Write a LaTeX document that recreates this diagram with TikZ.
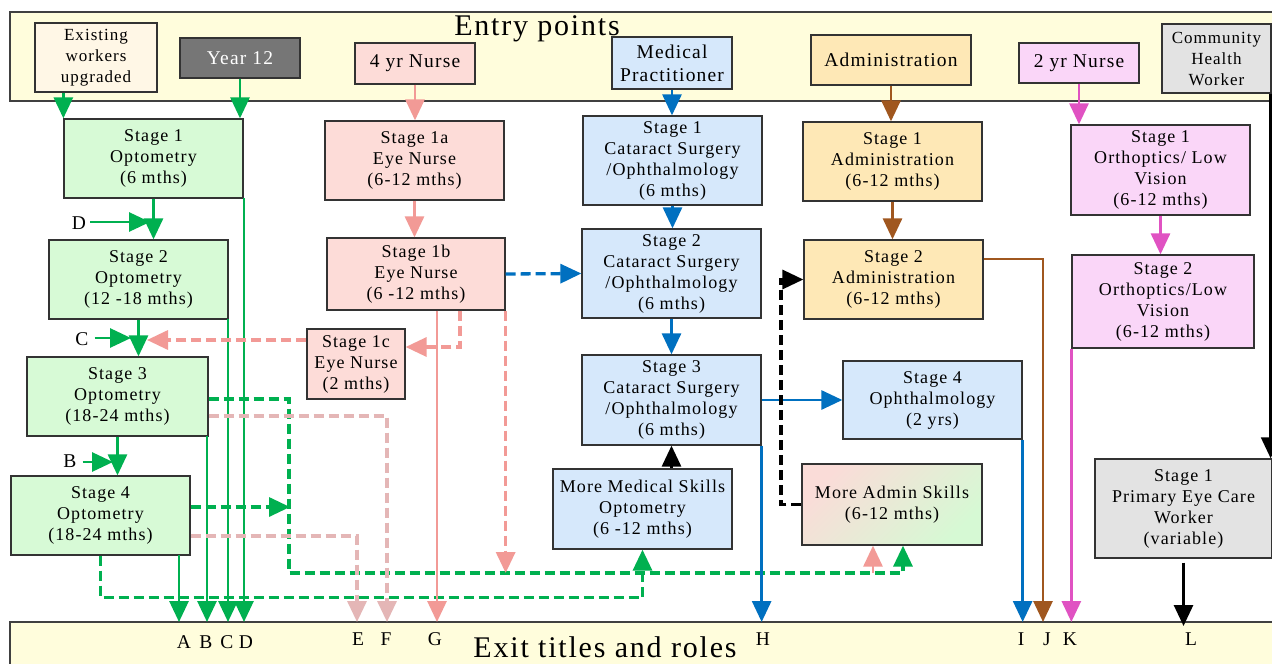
\documentclass[tikz,border=0pt]{standalone}
\usepackage{fontspec}
\setmainfont{Liberation Serif}[LetterSpace=6]
\usetikzlibrary{arrows.meta}
\definecolor{bandc}{HTML}{FFFDDC}
\definecolor{creamc}{HTML}{FFF7E6}
\definecolor{darkg}{HTML}{767676}
\definecolor{nursec}{HTML}{FDDCD8}
\definecolor{bluec}{HTML}{D6E8FB}
\definecolor{admc}{HTML}{FEE8B6}
\definecolor{orthc}{HTML}{FAD6F8}
\definecolor{greyc}{HTML}{E3E3E3}
\definecolor{optc}{HTML}{D7FAD6}
\definecolor{gline}{HTML}{00B050}
\definecolor{sline}{HTML}{F29A96}
\definecolor{rline}{HTML}{E4B6B6}
\definecolor{bline}{HTML}{0070C0}
\definecolor{brline}{HTML}{A0571F}
\definecolor{mline}{HTML}{E052C2}
\definecolor{yelc}{HTML}{FFFBDF}
\definecolor{asp}{HTML}{FADCD8}
\definecolor{asg}{HTML}{D6F9D4}
\newcommand\fsS{\fontsize{18}{21}\selectfont}
\newcommand\fsA{\fontsize{17}{21}\selectfont}
\newcommand\fsB{\fontsize{19.5}{23}\selectfont}
\newcommand\fsT{\fontsize{30}{34}\selectfont}
\tikzset{
  box/.style={draw=black!80, line width=1.3pt, align=center, inner sep=0pt, font=\fsS},
  sz/.style 2 args={minimum width=#1pt, minimum height=#2pt},
  bandst/.style={draw=black!75, line width=1.3pt, fill=bandc},
  lab/.style={font=\fsB, inner sep=0pt, anchor=base},
  ttl/.style={font=\fsT, inner sep=0pt, anchor=base},
  conn/.style={line width=2.9pt, -{Triangle[width=19pt,length=21pt]}},
  dsh/.style={line width=3.3pt, dash pattern=on 10pt off 5pt},
  ga/.style={conn, draw=gline},
  gd/.style={ga, dsh},
  sa/.style={conn, draw=sline},
  sd/.style={sa, dsh},
  rd/.style={conn, draw=rline, dsh},
  ba/.style={conn, draw=bline},
  bd/.style={ba, dsh},
  bra/.style={conn, draw=brline},
  ma/.style={conn, draw=mline},
  ka/.style={conn, draw=black},
  kd/.style={ka, dsh},
}
\begin{document}
\begin{tikzpicture}[x=1pt,y=-1pt]
\useasboundingbox (0,0) rectangle (1272,664);
\fill[white] (0,0) rectangle (1272,664);
% bands
\draw[bandst] (10,12) rectangle (1290,101);
\draw[bandst] (10,622) rectangle (1290,690);
\coordinate (ex) at (0,622);
\node[ttl] (entry) at (537,35) {Entry points};
\node[ttl] (exit) at (605,657) {Exit titles and roles};
% entry points
\node[box, fill=creamc, sz={122}{69}, font=\fsA] (ewu) at (96,57.5) {Existing\\workers\\upgraded};
\node[box, fill=darkg, text=white, sz={120}{40}, font=\fsB] (y12) at (240,58) {Year 12};
\node[box, fill=nursec, sz={120}{41}, font=\fsB] (n4) at (415,63.5) {4 yr Nurse};
\node[box, fill=bluec, sz={120}{52}, font=\fsB] (mp) at (672,63) {Medical\\Practitioner};
\node[box, fill=admc, sz={160}{50}, font=\fsB] (adm) at (891,60) {Administration};
\node[box, fill=orthc, sz={120}{40}, font=\fsB] (n2) at (1079,63) {2 yr Nurse};
\node[box, fill=greyc, sz={109}{69}, font=\fsA] (chw) at (1216.5,58.5) {Community\\Health\\Worker};
% optometry
\node[box, fill=optc, sz={179}{79}] (o1) at (153.5,158.5) {Stage 1\\Optometry\\(6 mths)};
\node[box, fill=optc, sz={179}{79}] (o2) at (138.5,279.5) {Stage 2\\Optometry\\(12 -18 mths)};
\node[box, fill=optc, sz={181}{79}] (o3) at (117.5,396.5) {Stage 3\\Optometry\\(18-24 mths)};
\node[box, fill=optc, sz={179}{79}] (o4) at (100.5,515.5) {Stage 4\\Optometry\\(18-24 mths)};
% eye nurse
\node[box, fill=nursec, sz={179}{79}] (e1a) at (414.5,160.5) {Stage 1a\\Eye Nurse\\(6-12 mths)};
\node[box, fill=nursec, sz={178}{72}] (e1b) at (416,274) {Stage 1b\\Eye Nurse\\(6 -12 mths)};
\node[box, fill=nursec, sz={98}{70}] (e1c) at (356,364) {Stage 1c\\Eye Nurse\\(2 mths)};
% cataract
\node[box, fill=bluec, sz={179}{89}] (c1) at (672.5,160.5) {Stage 1\\Cataract Surgery\\/Ophthalmology\\(6 mths)};
\node[box, fill=bluec, sz={179}{89}] (c2) at (671.5,273.5) {Stage 2\\Cataract Surgery\\/Ophthalmology\\(6 mths)};
\node[box, fill=bluec, sz={179}{90}] (c3) at (671.5,400) {Stage 3\\Cataract Surgery\\/Ophthalmology\\(6 mths)};
\node[box, left color=bluec, middle color=yelc, right color=bluec, sz={179}{80}] (ms) at (642.5,509) {More Medical Skills\\Optometry\\(6 -12 mths)};
\node[box, fill=bluec, sz={179}{78}] (oph4) at (932.5,400) {Stage 4\\Ophthalmology\\(2 yrs)};
\node[box, top color=asp, bottom color=asg, shading angle=45, sz={180}{81}] (as) at (892,504.5) {More Admin Skills\\(6-12 mths)};
% administration
\node[box, fill=admc, sz={179}{79}] (a1) at (892.5,161.5) {Stage 1\\Administration\\(6-12 mths)};
\node[box, fill=admc, sz={179}{79}] (a2) at (893.5,279.5) {Stage 2\\Administration\\(6-12 mths)};
% orthoptics
\node[box, fill=orthc, sz={179}{90}] (or1) at (1160.5,170) {Stage 1\\Orthoptics/ Low\\Vision\\(6-12 mths)};
\node[box, fill=orthc, sz={182}{93}] (or2) at (1163,301.5) {Stage 2\\Orthoptics/Low\\Vision\\(6-12 mths)};
% primary eye care
\node[box, fill=greyc, sz={177}{99}] (pecw) at (1183.5,508.5) {Stage 1\\Primary Eye Care\\Worker\\(variable)};
% side labels
\node[lab] (lD) at (79,229) {D};
\node[lab] (lC) at (82,345) {C};
\node[lab] (lB) at (70,467) {B};
% exit labels
\node[lab] (xA) at (184,648) {A};
\node[lab] (xB) at (206,648) {B};
\node[lab] (xC) at (227,648) {C};
\node[lab] (xD) at (246,648) {D};
\node[lab] (xE) at (358,645) {E};
\node[lab] (xF) at (386,645) {F};
\node[lab] (xG) at (435,645) {G};
\node[lab] (xH) at (763,645) {H};
\node[lab] (xI) at (1021,645) {I};
\node[lab] (xJ) at (1047,645) {J};
\node[lab] (xK) at (1070,645) {K};
\node[lab] (xL) at (1191,645) {L};
% junction coordinates
\coordinate (tD) at (150,222);
\coordinate (tC) at (131,338);
\coordinate (tB) at (113,462);
\coordinate (sA) at (179,555);
\coordinate (sB) at (207,436);
\coordinate (sC) at (228,319);
\coordinate (sD) at (244,198);
\coordinate (j3) at (289,573);
\coordinate (j4) at (290,507);
\coordinate (jE) at (357,622);
\coordinate (jF) at (387,622);
\coordinate (t1c) at (147,340);
\coordinate (jp) at (873,573);
\coordinate (jk) at (781,279.5);
\coordinate (jJ) at (1043,622);
% optometry connectors
\draw[ga] (o1.north west |- ewu.south) -- (o1.north west);
\draw[ga] (y12.south) -- (y12.south |- o1.north);
\draw[ga] (o1.south) -- (o1.south |- o2.north);
\draw[ga] (lD.east |- tD) ++(4,0) -- (tD);
\draw[ga] (o2.south) -- (o2.south |- o3.north);
\draw[ga] (lC.east |- tC) ++(6,0) -- (tC);
\draw[ga] (o3.south) -- (o3.south |- o4.north);
\draw[ga] (lB.east |- tB) ++(6,0) -- (tB);
\draw[ga] (sA) -- (sA |- ex);
\draw[ga] (sB) -- (sB |- ex);
\draw[ga] (sC) -- (sC |- ex);
\draw[ga] (sD) -- (sD |- ex);
\draw[gd] ([yshift=-2.5pt]o3.east) -| (j3) -| ([xshift=11pt]as.south);
\draw[gd] ([yshift=8.5pt]o4.east) -- (j4);
\draw[gd] (o4.south) -- ++(0,42) -| (ms.south);
\draw[rd] ([yshift=-19.5pt]o3.east) -| (jF);
\draw[rd] ([yshift=-20.5pt]o4.east) -| (jE);
% eye nurse connectors
\draw[sa] (n4.south) -- (n4.south |- e1a.north);
\draw[sa] (e1a.south) -- (e1a.south |- e1b.north);
\draw[sd] ([xshift=44pt]e1b.south) |- ([yshift=17pt]e1c.east);
\draw[sd] ([yshift=24pt]e1c.west) -- (t1c);
\draw[sa] ([xshift=21pt]e1b.south) -- ([xshift=21pt]e1b.south |- ex);
\draw[sd] (e1b.south east) -- (e1b.south east |- j3);
\draw[bd] (e1b.east) -- (c2.west);
\draw[sa] (jp) -- ([xshift=-19pt]as.south);
% cataract connectors
\draw[ba] (mp.south) -- (mp.south |- c1.north);
\draw[ba] (c1.south) -- (c1.south |- c2.north);
\draw[ba] (c2.south) -- (c2.south |- c3.north);
\draw[ba] (c3.east) -- (oph4.west);
\draw[ba] (c3.south east) -- (c3.south east |- ex);
\draw[ka] (c3.south |- ms.north) -- (c3.south);
\draw[ba] (oph4.south east) -- (oph4.south east |- ex);
\draw[kd] (as.west) -| (jk) -- (a2.west);
% admin connectors
\draw[bra] (adm.south) -- (adm.south |- a1.north);
\draw[bra] (a1.south) -- (a1.south |- a2.north);
\draw[bra] ([yshift=20.5pt]a2.east) -| (jJ);
% orthoptics
\draw[ma] (n2.south) -- (n2.south |- or1.north);
\draw[ma] (or1.south) -- (or1.south |- or2.north);
\draw[ma] (or2.south west) -- (or2.south west |- ex);
% community health worker
\draw[ka] ([xshift=-1pt]chw.south east) -- ([xshift=-1pt]chw.south east |- pecw.north);
\draw[ka] ([yshift=-4pt]pecw.south) -- ([yshift=-4pt]pecw.south |- ex);
\end{tikzpicture}
\end{document}
